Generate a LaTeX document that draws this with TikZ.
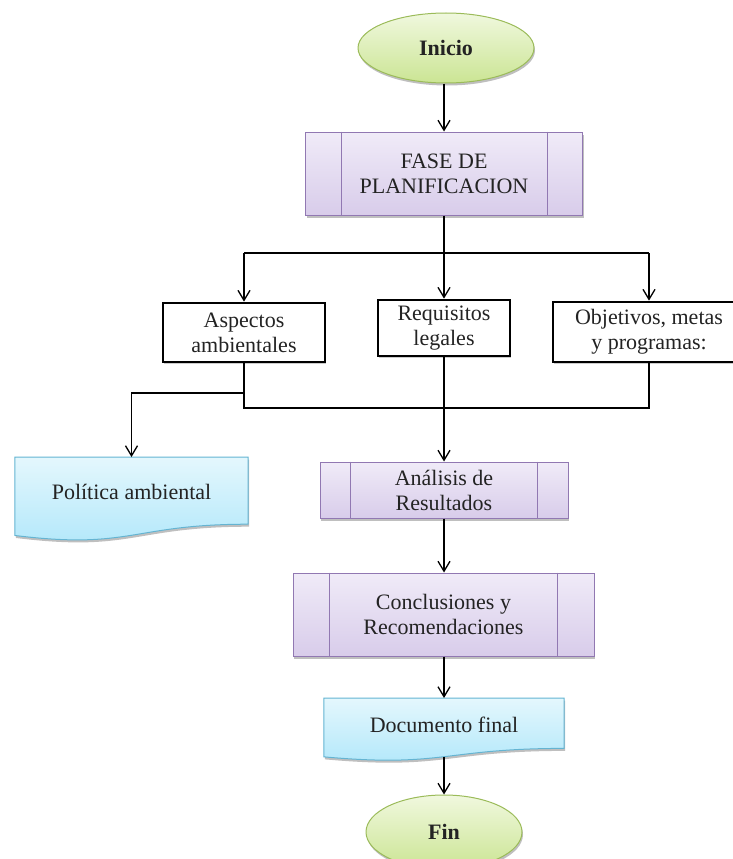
\documentclass[tikz,border=0pt]{standalone}
\usepackage{fontspec}
\setmainfont{Liberation Serif}
\usetikzlibrary{shapes.geometric,arrows.meta,shadows}

\definecolor{grnTop}{RGB}{240,248,222}
\definecolor{grnBot}{RGB}{203,229,148}
\definecolor{grnLine}{RGB}{155,187,89}
\definecolor{purTop}{RGB}{240,235,248}
\definecolor{purBot}{RGB}{216,204,234}
\definecolor{purLine}{RGB}{145,120,178}
\definecolor{cyaTop}{RGB}{228,247,253}
\definecolor{cyaBot}{RGB}{176,231,250}
\definecolor{cyaLine}{RGB}{100,180,210}
\definecolor{ink}{RGB}{35,35,35}

\tikzset{
  txt/.style={font=\fontsize{22}{25}\selectfont, text=ink, align=center, inner sep=0pt},
  softshadow/.style={drop shadow={shadow xshift=1pt, shadow yshift=-2.5pt, fill=black, opacity=0.25}},
  terminal/.style={txt, ellipse, draw=grnLine, line width=1pt, top color=grnTop, bottom color=grnBot,
    softshadow, font=\fontsize{22}{25}\selectfont\bfseries},
  procbox/.style={txt, rectangle, draw=purLine, line width=1pt, top color=purTop, bottom color=purBot, softshadow},
  plainbox/.style={txt, rectangle, draw=black, line width=2.8pt, fill=white,
    drop shadow={shadow xshift=1pt, shadow yshift=-2pt, fill=black, opacity=0.2}},
  docbox/.style={txt, rectangle, anchor=north},
  docshape/.style={draw=cyaLine, line width=1pt, top color=cyaTop, bottom color=cyaBot, softshadow},
  link/.style={line width=1.3pt, draw=black},
  arr/.style={link, -{Straight Barb[length=10pt,width=12pt,line width=1.3pt]}},
}

% side bars of a predefined-process box, #2 = inset from each side
\newcommand\sidebars[2]{%
  \draw[purLine, line width=1pt] ([xshift=#2]#1.north west) -- ([xshift=#2]#1.south west);
  \draw[purLine, line width=1pt] ([xshift=-#2]#1.north east) -- ([xshift=-#2]#1.south east);}

% document outline with a wavy lower edge, #2 = full height in pt
\newcommand\docpath[2]{%
  \path[docshape] (#1.north west) -- (#1.north east) -- ([yshift=-0.80*#2]#1.north east)
    .. controls ([yshift=-0.80*#2]#1.north) and ([yshift=-1.107*#2]#1.north)
    .. ([yshift=-0.934*#2]#1.north west) -- cycle;}

\begin{document}
\begin{tikzpicture}[x=1pt, y=-1pt]
\useasboundingbox (0,0) rectangle (733,859);

% terminals and process boxes
\node[terminal, minimum width=176pt, minimum height=70pt] (inicio) at (446,48) {Inicio};
\node[procbox, minimum width=277pt, minimum height=83pt] (fase) at (444,173.5) {FASE DE\\PLANIFICACION};
\sidebars{fase}{36pt}

\node[plainbox, minimum width=162pt, minimum height=59pt] (asp) at (244,332.5) {Aspectos\\ambientales};
\node[plainbox, minimum width=132pt, minimum height=56pt] (req) at (444,328) {Requisitos\\legales};
\node[plainbox, minimum width=192pt, minimum height=60pt] (obj) at (649,332) {Objetivos, metas\\y programas:};

% policy document (wavy bottom)
\node[docbox, minimum width=233pt, minimum height=78pt] (pol) at (131.5,457) {};
\docpath{pol}{84}
\node[txt] (poltxt) at (131.5,492) {Política ambiental};

\node[procbox, minimum width=248pt, minimum height=56pt] (ana) at (444,490) {Análisis de\\Resultados};
\sidebars{ana}{31pt}

\node[procbox, minimum width=301pt, minimum height=83pt] (conc) at (443.5,614.5) {Conclusiones y\\Recomendaciones};
\sidebars{conc}{37pt}

% final document (wavy bottom)
\node[docbox, minimum width=240pt, minimum height=58.7pt] (doc) at (444,698) {};
\docpath{doc}{63}
\node[txt] (doctxt) at (444,725) {Documento final};

\node[terminal, minimum width=156pt, minimum height=74pt] (fin) at (444,832) {Fin};

% connectors
\coordinate (fork) at (444,253);
\coordinate (join) at (444,408);
\coordinate (tap) at (244,393);

\draw[arr] (inicio.south -| fase.north) -- (fase.north);
\draw[link] (fase.south) -- (fork);
\draw[link] (asp.north |- fork) -- (obj.north |- fork);
\draw[arr] (asp.north |- fork) -- (asp.north);
\draw[arr] (fork) -- (req.north);
\draw[arr] (obj.north |- fork) -- (obj.north);

\draw[link] (asp.south) -- (asp.south |- join) -- (obj.south |- join) -- (obj.south);
\draw[arr] (req.south) -- (ana.north);
\draw[arr] (tap) -- (pol.north |- tap) -- (pol.north);

\draw[arr] (ana.south) -- (conc.north -| ana.south);
\draw[arr] (conc.south -| doc.north) -- (doc.north);
\draw[arr] (doc.south) -- (fin.north);
\end{tikzpicture}
\end{document}
